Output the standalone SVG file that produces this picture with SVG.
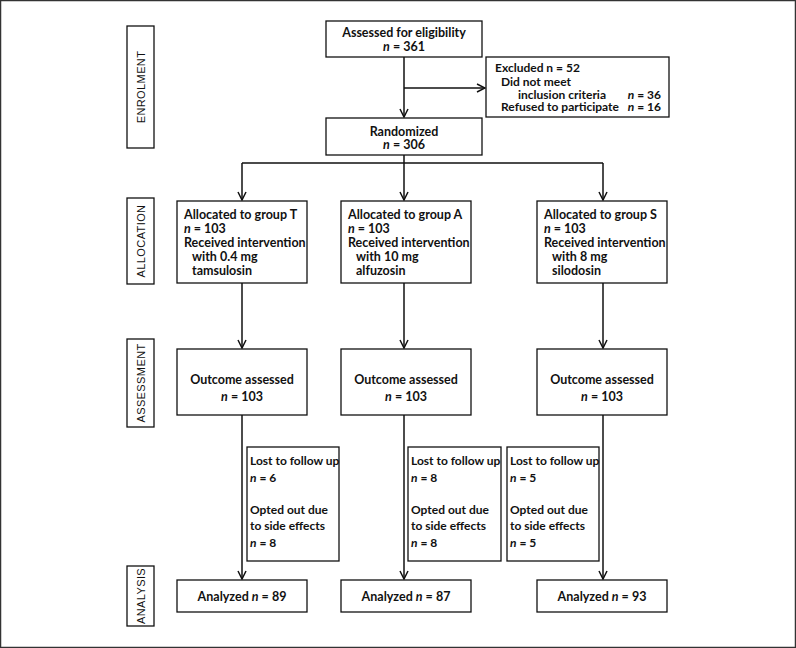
<svg xmlns="http://www.w3.org/2000/svg" width="796" height="648" viewBox="0 0 796 648">
<style>
.box{fill:#fff;stroke:#111;stroke-width:1.3}
.side{fill:#fff;stroke:#111;stroke-width:1.3}
.t{font-family:Lato,"Open Sans","Liberation Sans",sans-serif;font-weight:700;font-size:12.5px;fill:#111}
.sm{font-size:12px}
.c{text-anchor:middle}
.e{text-anchor:end}
.s{font-family:"Liberation Sans",Arial,sans-serif;font-size:11px;letter-spacing:0.4px;fill:#111;text-anchor:middle}
.ln{fill:none;stroke:#111;stroke-width:1.5}
.ar{marker-end:url(#arr)}
</style>
<defs>
<marker id="arr" viewBox="0 0 10 10" refX="9" refY="5" markerWidth="10" markerHeight="10" markerUnits="userSpaceOnUse" orient="auto">
<path d="M1,1 L9,5 L1,9" fill="none" stroke="#111" stroke-width="1.5"/>
</marker>
</defs>
<rect x="0.5" y="0.5" width="795" height="647" fill="#fff" stroke="#333" stroke-width="1.5"/>

<g id="side-enrolment"><rect class="side" x="127" y="26" width="27" height="122"/><text class="s" transform="translate(144.5,87) rotate(-90)">ENROLMENT</text></g>
<g id="side-allocation"><rect class="side" x="127" y="198" width="27" height="86"/><text class="s" transform="translate(144.5,241) rotate(-90)">ALLOCATION</text></g>
<g id="side-assessment"><rect class="side" x="127" y="339" width="27" height="88"/><text class="s" transform="translate(144.5,383) rotate(-90)">ASSESSMENT</text></g>
<g id="side-analysis"><rect class="side" x="127" y="566" width="27" height="60"/><text class="s" transform="translate(144.5,596) rotate(-90)">ANALYSIS</text></g>

<g id="connectors">
<path class="ln ar" d="M404,57 V117"/>
<path class="ln ar" d="M404,88 H485"/>
<path class="ln" d="M404,155 V163 M242,163 H603"/>
<path class="ln ar" d="M242,163 V200"/>
<path class="ln ar" d="M404,163 V200"/>
<path class="ln ar" d="M603,163 V200"/>
<path class="ln ar" d="M242,283 V348"/>
<path class="ln ar" d="M404,283 V348"/>
<path class="ln ar" d="M603,283 V348"/>
<path class="ln ar" d="M242,415 V579"/>
<path class="ln ar" d="M404,415 V579"/>
<path class="ln ar" d="M603,415 V579"/>
</g>

<g id="assessed"><rect class="box" x="326" y="21" width="156" height="36"/>
<text class="t c" x="404" y="37">Assessed for eligibility</text>
<text class="t c" x="404" y="50.5"><tspan font-style="italic">n</tspan> = 361</text></g>

<g id="excluded"><rect class="box" x="486" y="57" width="183" height="60"/>
<text class="t sm" x="495" y="72">Excluded n = 52</text>
<text class="t sm" x="501" y="85.5">Did not meet</text>
<text class="t sm" x="518" y="98.5">inclusion criteria</text>
<text class="t sm e" x="661" y="98.5"><tspan font-style="italic">n</tspan> = 36</text>
<text class="t sm" x="501" y="111">Refused to participate</text>
<text class="t sm e" x="661" y="111"><tspan font-style="italic">n</tspan> = 16</text></g>

<g id="randomized"><rect class="box" x="326" y="118" width="156" height="37"/>
<text class="t c" x="404" y="135.5">Randomized</text>
<text class="t c" x="404" y="149"><tspan font-style="italic">n</tspan> = 306</text></g>

<g id="alloc-t"><rect class="box" x="177" y="201" width="130" height="82"/>
<text class="t" x="184" y="219">Allocated to group T</text>
<text class="t" x="184" y="233"><tspan font-style="italic">n</tspan> = 103</text>
<text class="t" x="184" y="247">Received intervention</text>
<text class="t" x="192" y="261">with 0.4 mg</text>
<text class="t" x="192" y="275">tamsulosin</text></g>

<g id="alloc-a"><rect class="box" x="341" y="201" width="130" height="82"/>
<text class="t" x="348" y="219">Allocated to group A</text>
<text class="t" x="348" y="233"><tspan font-style="italic">n</tspan> = 103</text>
<text class="t" x="348" y="247">Received intervention</text>
<text class="t" x="356" y="261">with 10 mg</text>
<text class="t" x="356" y="275">alfuzosin</text></g>

<g id="alloc-s"><rect class="box" x="537" y="201" width="130" height="82"/>
<text class="t" x="544" y="219">Allocated to group S</text>
<text class="t" x="544" y="233"><tspan font-style="italic">n</tspan> = 103</text>
<text class="t" x="544" y="247">Received intervention</text>
<text class="t" x="552" y="261">with 8 mg</text>
<text class="t" x="552" y="275">silodosin</text></g>

<g id="outcome-t"><rect class="box" x="177" y="349" width="130" height="66"/>
<text class="t c" x="242" y="384">Outcome assessed</text>
<text class="t c" x="242" y="401"><tspan font-style="italic">n</tspan> = 103</text></g>
<g id="outcome-a"><rect class="box" x="341" y="349" width="130" height="66"/>
<text class="t c" x="406" y="384">Outcome assessed</text>
<text class="t c" x="406" y="401"><tspan font-style="italic">n</tspan> = 103</text></g>
<g id="outcome-s"><rect class="box" x="537" y="349" width="130" height="66"/>
<text class="t c" x="602" y="384">Outcome assessed</text>
<text class="t c" x="602" y="401"><tspan font-style="italic">n</tspan> = 103</text></g>

<g id="lost-t"><rect class="box" x="247" y="447" width="92" height="114"/>
<text class="t sm" x="250" y="465">Lost to follow up</text>
<text class="t sm" x="250" y="482"><tspan font-style="italic">n</tspan> = 6</text>
<text class="t sm" x="250" y="514">Opted out due</text>
<text class="t sm" x="250" y="530">to side effects</text>
<text class="t sm" x="250" y="547"><tspan font-style="italic">n</tspan> = 8</text></g>
<g id="lost-a"><rect class="box" x="408" y="447" width="93" height="114"/>
<text class="t sm" x="411" y="465">Lost to follow up</text>
<text class="t sm" x="411" y="482"><tspan font-style="italic">n</tspan> = 8</text>
<text class="t sm" x="411" y="514">Opted out due</text>
<text class="t sm" x="411" y="530">to side effects</text>
<text class="t sm" x="411" y="547"><tspan font-style="italic">n</tspan> = 8</text></g>
<g id="lost-s"><rect class="box" x="507" y="447" width="92" height="114"/>
<text class="t sm" x="510" y="465">Lost to follow up</text>
<text class="t sm" x="510" y="482"><tspan font-style="italic">n</tspan> = 5</text>
<text class="t sm" x="510" y="514">Opted out due</text>
<text class="t sm" x="510" y="530">to side effects</text>
<text class="t sm" x="510" y="547"><tspan font-style="italic">n</tspan> = 5</text></g>

<g id="analyzed-t"><rect class="box" x="177" y="580" width="130" height="32"/>
<text class="t c" x="242" y="601">Analyzed <tspan font-style="italic">n</tspan> = 89</text></g>
<g id="analyzed-a"><rect class="box" x="341" y="580" width="130" height="32"/>
<text class="t c" x="406" y="601">Analyzed <tspan font-style="italic">n</tspan> = 87</text></g>
<g id="analyzed-s"><rect class="box" x="537" y="580" width="130" height="32"/>
<text class="t c" x="602" y="601">Analyzed <tspan font-style="italic">n</tspan> = 93</text></g>
</svg>
